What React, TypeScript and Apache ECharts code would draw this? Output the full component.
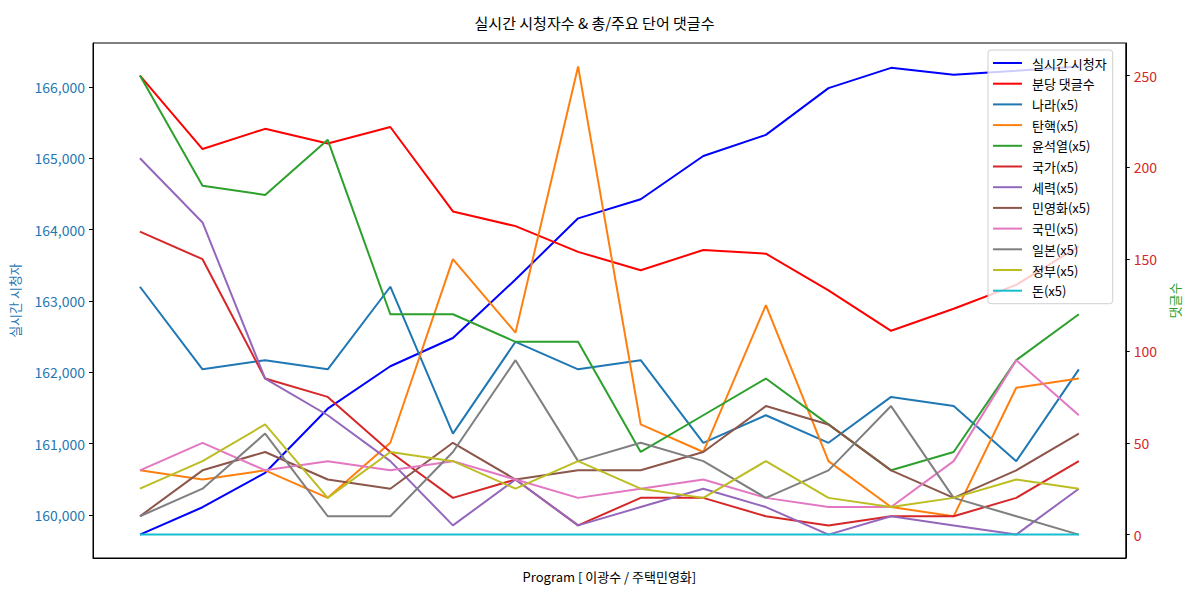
import React, { useEffect, useRef } from "react";
import * as echarts from "echarts";

const FONT = "'Noto Sans CJK KR', 'Noto Sans', sans-serif";

const programIndex = [0, 1, 2, 3, 4, 5, 6, 7, 8, 9, 10, 11, 12, 13, 14, 15];

const viewers = [159723, 160107, 160590, 161489, 162084, 162481, 163300, 164159, 164426, 165034, 165329, 165985, 166270, 166172, 166230, 166290];
const commentsPerMin = [250, 210, 221, 213, 222, 176, 168, 154, 144, 155, 153, 133, 111, 123, 136, 157];

const kwNames = ["나라(x5)", "탄핵(x5)", "윤석열(x5)", "국가(x5)", "세력(x5)", "민영화(x5)", "국민(x5)", "일본(x5)", "정부(x5)", "돈(x5)"];
const nara = [135, 90, 95, 90, 135, 55, 105, 90, 95, 50, 65, 50, 75, 70, 40, 90];
const tanhaek = [35, 30, 35, 20, 50, 150, 110, 255, 60, 45, 125, 40, 15, 10, 80, 85];
const yoon = [250, 190, 185, 215, 120, 120, 105, 105, 45, 65, 85, 60, 35, 45, 95, 120];
const gukga = [165, 150, 85, 75, 45, 20, 30, 5, 20, 20, 10, 5, 10, 10, 20, 40];
const seryeok = [205, 170, 85, 65, 40, 5, 30, 5, 15, 25, 15, 0, 10, 5, 0, 25];
const minyounghwa = [10, 35, 45, 30, 25, 50, 30, 35, 35, 45, 70, 60, 35, 20, 35, 55];
const gukmin = [35, 50, 35, 40, 35, 40, 30, 20, 25, 30, 20, 15, 15, 40, 95, 65];
const ilbon = [10, 25, 55, 10, 10, 45, 95, 40, 50, 40, 20, 35, 70, 20, 10, 0];
const jeongbu = [25, 40, 60, 20, 45, 40, 25, 40, 25, 20, 40, 20, 15, 20, 30, 25];
const don = [0, 0, 0, 0, 0, 0, 0, 0, 0, 0, 0, 0, 0, 0, 0, 0];
const kwValues = [nara, tanhaek, yoon, gukga, seryeok, minyounghwa, gukmin, ilbon, jeongbu, don];

const kwColors = ["#1f77b4", "#ff7f0e", "#2ca02c", "#d62728", "#9467bd", "#8c564b", "#e377c2", "#7f7f7f", "#bcbd22", "#17becf"];

const leftTicks = [160000, 161000, 162000, 163000, 164000, 165000, 166000];
const rightTicks = [0, 50, 100, 150, 200, 250];

const pairs = (arr: number[]) => arr.map((v, i) => [programIndex[i], v]);

export default function App() {
  const ref = useRef<HTMLDivElement>(null);
  useEffect(() => {
    if (!ref.current) return;
    const chart = echarts.init(ref.current, null, { renderer: "svg" });
    const vMin = Math.min(...viewers);
    const vMax = Math.max(...viewers);
    const vPad = (vMax - vMin) * 0.05;
    const allC = [commentsPerMin, ...kwValues].flat();
    const cMin = Math.min(...allC);
    const cMax = Math.max(...allC);
    const cPad = (cMax - cMin) * 0.05;
    const line = (name: string, data: number[], color: string, yIdx: number) => ({
      name,
      type: "line",
      yAxisIndex: yIdx,
      data: pairs(data),
      showSymbol: false,
      symbol: "none",
      lineStyle: { color, width: 2 },
      itemStyle: { color },
      emphasis: { disabled: true },
    });
    const series = [
      line("실시간 시청자", viewers, "#0000ff", 0),
      line("분당 댓글수", commentsPerMin, "#ff0000", 1),
      ...kwNames.map((n, i) => line(n, kwValues[i], kwColors[i], 1)),
    ];
    chart.setOption({
      animation: false,
      textStyle: { fontFamily: FONT },
      title: {
        text: "실시간 시청자수 & 총/주요 단어 댓글수",
        left: "center",
        top: 10,
        textStyle: { fontSize: 15, fontWeight: "normal", color: "#000", fontFamily: FONT },
      },
      grid: { left: 93, right: 63, top: 43, bottom: 34, show: true, borderColor: "#000", borderWidth: 1, backgroundColor: "transparent" },
      legend: {
        orient: "vertical",
        left: 988,
        top: 50,
        padding: [6, 6, 6, 5],
        itemWidth: 29,
        itemHeight: 2,
        itemGap: 6.7,
        icon: "rect",
        backgroundColor: "rgba(255,255,255,0.8)",
        borderColor: "#d0d0d0",
        borderWidth: 1,
        borderRadius: 3,
        textStyle: { fontSize: 13, color: "#000", lineHeight: 14, fontFamily: FONT, padding: [0, 0, 0, 5] },
        data: series.map((s) => s.name),
      },
      xAxis: {
        type: "value",
        min: -0.75,
        max: 15.75,
        name: "Program [ 이광수 / 주택민영화]",
        nameLocation: "middle",
        nameGap: 12,
        nameTextStyle: { fontSize: 13, color: "#000", fontFamily: FONT },
        axisLine: { show: true, onZero: false, lineStyle: { color: "#000" } },
        axisTick: { show: false },
        axisLabel: { show: false },
        splitLine: { show: false },
      },
      yAxis: [
        {
          type: "value",
          min: vMin - vPad,
          max: vMax + vPad,
          position: "left",
          name: "실시간 시청자",
          nameLocation: "middle",
          nameRotate: 90,
          nameGap: 72,
          nameTextStyle: { fontSize: 13, color: "#1f77b4", fontFamily: FONT },
          axisLine: { show: true, onZero: false, lineStyle: { color: "#000" } },
          axisTick: { show: true, length: 4, lineStyle: { color: "#000" }, customValues: leftTicks },
          axisLabel: {
            customValues: leftTicks,
            fontSize: 14,
            color: "#1f77b4",
            margin: 8,
            fontFamily: FONT,
            formatter: (v: number) => v.toLocaleString("en-US"),
          },
          splitLine: { show: false },
        },
        {
          type: "value",
          min: cMin - cPad,
          max: cMax + cPad,
          position: "right",
          name: "댓글수",
          nameLocation: "middle",
          nameRotate: 90,
          nameGap: 40,
          nameTextStyle: { fontSize: 13, color: "#2ca02c", fontFamily: FONT },
          axisLine: { show: true, onZero: false, lineStyle: { color: "#000" } },
          axisTick: { show: true, length: 4, lineStyle: { color: "#000" }, customValues: rightTicks },
          axisLabel: { customValues: rightTicks, fontSize: 14, color: "#d62728", margin: 8, fontFamily: FONT },
          splitLine: { show: false },
        },
      ],
      series,
    });
    return () => chart.dispose();
  }, []);
  return <div ref={ref} style={{ position: "absolute", left: 0, top: 0, width: 1189, height: 592, background: "#fff" }} />;
}
